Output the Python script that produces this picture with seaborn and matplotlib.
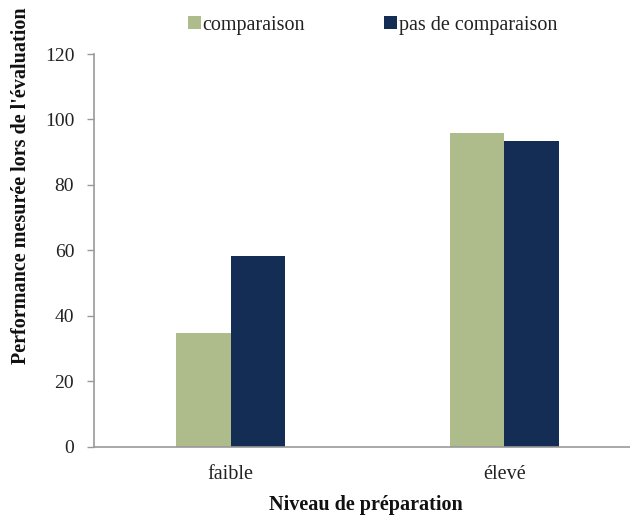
import matplotlib
matplotlib.use("Agg")
import matplotlib.pyplot as plt
from matplotlib.patches import Patch
import seaborn as sns
import pandas as pd

# Data
niveaux = ["faible", "élevé"]
conditions = ["comparaison", "pas de comparaison"]
comparaison = [34.7, 95.8]
pas_de_comparaison = [58.3, 93.4]
yticks = [0, 20, 40, 60, 80, 100, 120]

colors = {"comparaison": "#aebb8a", "pas de comparaison": "#132d55"}

df = pd.DataFrame({
    "niveau": niveaux * 2,
    "condition": [conditions[0]] * 2 + [conditions[1]] * 2,
    "performance": comparaison + pas_de_comparaison,
})

sns.set_theme(style="white")
plt.rcParams["font.family"] = ["Liberation Serif", "DejaVu Serif"]

fig = plt.figure(figsize=(6.3, 5.15), dpi=100)
ax = fig.add_axes([0.1487, 0.1326, 0.869, 0.7625])

sns.barplot(data=df, x="niveau", y="performance", hue="condition",
            order=niveaux, hue_order=conditions, palette=colors,
            width=0.4, gap=0, saturation=1, linewidth=0, ax=ax, legend=False)

ax.set_xlim(-0.5, 1.5)
ax.set_ylim(0, 120)
ax.set_yticks(yticks)
ax.set_yticklabels([str(t) for t in yticks], fontsize=14, color="#222222")
ax.tick_params(axis="y", left=True, length=5, width=1, color="#999999", pad=9)
ax.tick_params(axis="x", bottom=False, labelsize=14.5, labelcolor="#222222", pad=7)

for side in ("top", "right"):
    ax.spines[side].set_visible(False)
for side in ("left", "bottom"):
    ax.spines[side].set_color("#999999")
    ax.spines[side].set_linewidth(1.2)

ax.set_xlabel("")
ax.set_ylabel("")
fig.text(366 / 630, 1 - 505 / 515, "Niveau de préparation",
         ha="center", va="center", fontsize=14.5, fontweight="bold", color="#111111")
fig.text(0.034, 1 - 186 / 515, "Performance mesurée lors de l'évaluation",
         rotation=90, ha="center", va="center", fontsize=14.5,
         fontweight="bold", color="#111111")

handles = [Patch(facecolor=colors[c], edgecolor="none", label=c) for c in conditions]
fig.legend(handles=handles, loc="center", bbox_to_anchor=(0.591, 0.951), ncol=2,
           frameon=False, fontsize=14.5, handlelength=0.65, handleheight=0.65,
           handletextpad=0.1, columnspacing=3.9, borderaxespad=0,
           labelcolor="#222222")

fig.savefig("out.png", dpi=100)
